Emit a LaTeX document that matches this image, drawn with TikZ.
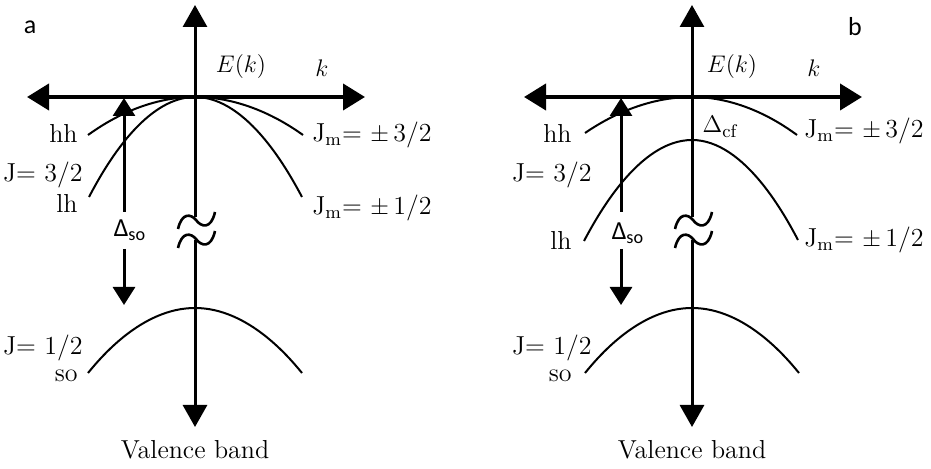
\documentclass[tikz,border=0pt]{standalone}
\usepackage{fontspec}
\newfontfamily\tagfont{Carlito}
\usetikzlibrary{arrows.meta}

\begin{document}
\begin{tikzpicture}[x=0.5pt,y=-0.5pt,
  axis/.style={-{Triangle[length=11pt,width=12pt]},line width=1.5pt},
  kaxis/.style={{Triangle[length=11pt,width=13pt]}-{Triangle[length=11pt,width=13pt]},line width=2pt},
  band/.style={line width=1pt},
  wave/.style={line width=1.3pt},
  gap/.style={-{Triangle[length=9pt,width=11pt]},line width=1.5pt},
  lbl/.style={font=\fontsize{13}{15}\selectfont,inner sep=1pt},
  tag/.style={font=\tagfont\fontsize{13}{15}\selectfont,inner sep=1pt}]
  \useasboundingbox (0,0) rectangle (931,469);

  % parts shared by both panels
  \foreach \ox/\p in {0/A,497/B}{
    \coordinate (left\p) at (27+\ox,97);
    \coordinate (right\p) at (365+\ox,97);
    \coordinate (top\p) at (195+\ox,5);
    \coordinate (brk\p) at (195+\ox,217);
    \coordinate (res\p) at (195+\ox,240);
    \coordinate (bot\p) at (195+\ox,427);
    \draw[kaxis] (left\p) -- (right\p);
    \draw[axis] (brk\p) -- (top\p);
    \draw[axis] (res\p) -- (bot\p);
    % break mark
    \draw[wave] (178+\ox,229) .. controls (182+\ox,212) and (191+\ox,214) .. (196+\ox,220)
      .. controls (201+\ox,227) and (211+\ox,230) .. (215+\ox,212);
    \draw[wave] (178+\ox,248) .. controls (182+\ox,231) and (191+\ox,233) .. (196+\ox,239)
      .. controls (201+\ox,246) and (211+\ox,249) .. (215+\ox,231);
    % split-off band
    \draw[band] (88+\ox,373) parabola bend (195+\ox,308) (302+\ox,373);
    % spin-orbit gap
    \coordinate (soUp\p) at (124+\ox,212);
    \coordinate (soTop\p) at (124+\ox,98);
    \coordinate (soDn\p) at (124+\ox,249);
    \coordinate (soBot\p) at (124+\ox,305);
    \draw[gap] (soUp\p) -- (soTop\p);
    \draw[gap] (soDn\p) -- (soBot\p);
    \node[lbl] (vb\p) at (195+\ox,450) {Valence band};
  }

  % panel a
  \node[tag] (tagA) at (30,27) {a};
  \node[lbl] (EkA) at (241,67) {$E(k)$};
  \node[lbl] (kA) at (322,68) {$k$};
  \draw[band] (88,135) parabola bend (195,97) (303,135);
  \draw[band] (89,197) parabola bend (195,97) (302,197);
  \node[lbl,anchor=east] (hhA) at (80,133) {hh};
  \node[lbl,anchor=east] (j32A) at (85,175) {J= 3/2};
  \node[lbl,anchor=east] (lhA) at (80,203) {lh};
  \node[lbl,anchor=east] (j12A) at (85,348) {J= 1/2};
  \node[lbl,anchor=east] (soA) at (80,376) {so};
  \node[tag] (dsoA) at (130,230) {Δ\textsubscript{so}};
  \node[lbl,anchor=west] (jm3A) at (310,135) {J$_\mathrm{m}$= $\pm$\,3/2};
  \node[lbl,anchor=west] (jm1A) at (310,208) {J$_\mathrm{m}$= $\pm$\,1/2};

  % panel b
  \node[tag] (tagB) at (855,27) {b};
  \node[lbl] (EkB) at (732,67) {$E(k)$};
  \node[lbl] (kB) at (814,68) {$k$};
  \draw[band] (585,133) parabola bend (692,97) (797,135);
  \draw[band] (584,241) parabola bend (692,140) (798,240);
  \node[lbl,anchor=east] (hhB) at (574,133) {hh};
  \node[lbl,anchor=east] (j32B) at (594,175) {J= 3/2};
  \node[lbl,anchor=east] (lhB) at (574,240) {lh};
  \node[lbl,anchor=east] (j12B) at (594,348) {J= 1/2};
  \node[lbl,anchor=east] (soB) at (574,376) {so};
  \node[tag] (dsoB) at (628,233) {Δ\textsubscript{so}};
  \node[lbl] (dcf) at (720,127) {$\Delta_\mathrm{cf}$};
  \node[lbl,anchor=west] (jm3B) at (802,131) {J$_\mathrm{m}$= $\pm$\,3/2};
  \node[lbl,anchor=west] (jm1B) at (802,240) {J$_\mathrm{m}$= $\pm$\,1/2};
\end{tikzpicture}
\end{document}
